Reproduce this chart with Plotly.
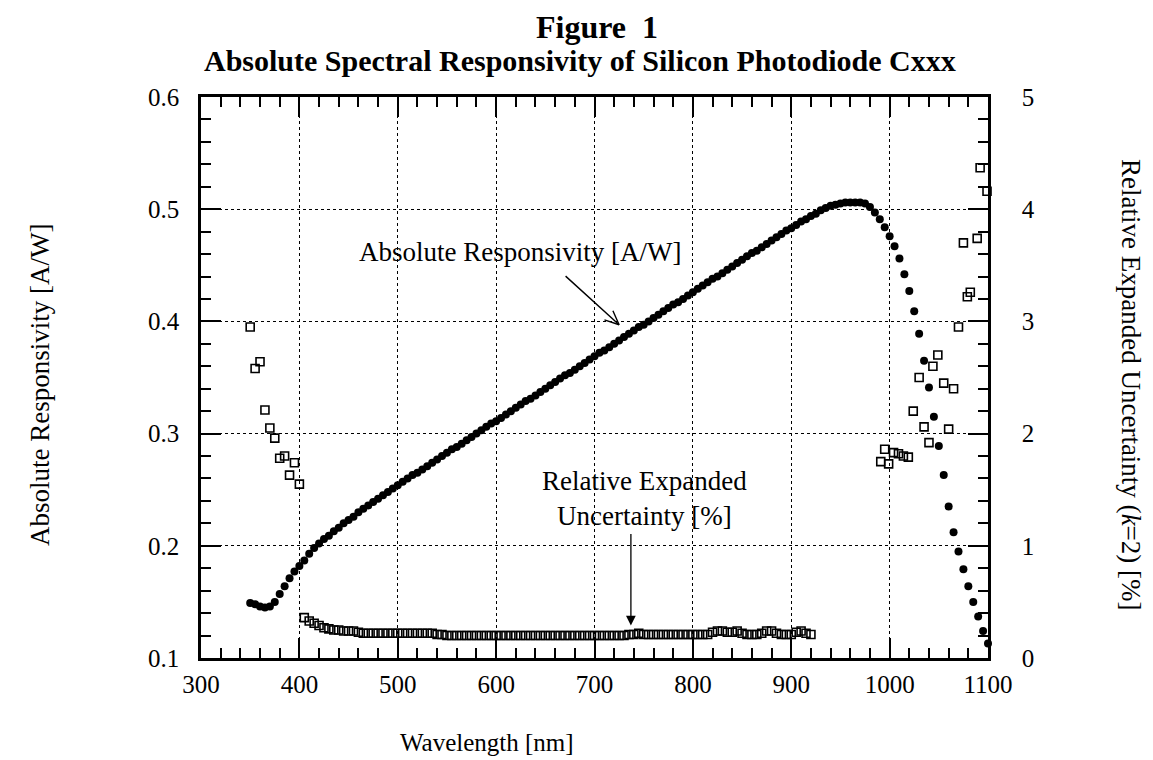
import math
import plotly.graph_objects as go

# Wavelength grid of the responsivity scan [nm]
wavelength_resp = list(range(350, 1101, 5))

# Absolute responsivity [A/W]
responsivity = [
    0.149, 0.148, 0.146, 0.145, 0.146, 0.150, 0.157, 0.164, 0.171, 0.177,
    0.182, 0.187, 0.193, 0.198, 0.202, 0.206, 0.209, 0.213, 0.216, 0.220,
    0.223, 0.226, 0.230, 0.233, 0.236, 0.239, 0.242, 0.245, 0.248, 0.251,
    0.254,
    0.257, 0.260, 0.263, 0.265, 0.268, 0.271, 0.274, 0.277, 0.280, 0.283,
    0.286, 0.288, 0.291, 0.294, 0.297, 0.300, 0.303, 0.306, 0.309, 0.311,
    0.314, 0.317, 0.320, 0.323, 0.326, 0.329, 0.331, 0.334, 0.337, 0.340,
    0.343, 0.346, 0.349, 0.352, 0.354, 0.357, 0.360, 0.363, 0.366, 0.369,
    0.372, 0.374, 0.377, 0.380, 0.383, 0.386, 0.389, 0.392, 0.395, 0.397,
    0.400, 0.403, 0.406, 0.409, 0.412, 0.415, 0.417, 0.420, 0.423, 0.426,
    0.429, 0.432, 0.435, 0.438, 0.440, 0.443, 0.446, 0.449, 0.452, 0.455,
    0.458, 0.461, 0.463, 0.466, 0.469, 0.472, 0.475, 0.478, 0.481, 0.483,
    0.486, 0.489, 0.491, 0.494, 0.496, 0.499, 0.501, 0.503, 0.504, 0.505,
    0.506, 0.506, 0.506, 0.506, 0.505, 0.502, 0.497, 0.491, 0.484, 0.476,
    0.467, 0.456, 0.442, 0.427, 0.409, 0.389, 0.365, 0.341, 0.315, 0.289,
    0.263, 0.235, 0.212, 0.195, 0.179, 0.164, 0.150, 0.137, 0.124, 0.113,
]

# Relative expanded uncertainty (k=2) [%] and its wavelengths [nm]
wavelength_unc_uv = [350, 355, 360, 365, 370, 375, 380, 385, 390, 395, 400]
uncertainty_uv = [2.95, 2.58, 2.64, 2.21, 2.05, 1.96, 1.78, 1.80, 1.63, 1.74, 1.55]

wavelength_unc_vis = list(range(405, 921, 5))
uncertainty_vis = [
    0.36, 0.33, 0.31, 0.29, 0.27, 0.26, 0.25, 0.25, 0.24, 0.24,
    0.24, 0.23, 0.22, 0.22, 0.22, 0.22, 0.22, 0.22, 0.22, 0.22,
    0.22, 0.22, 0.22, 0.22, 0.22, 0.22, 0.22, 0.21, 0.21, 0.20,
    0.20, 0.20, 0.20, 0.20, 0.20, 0.20, 0.20, 0.20, 0.20, 0.20,
    0.20, 0.20, 0.20, 0.20, 0.20, 0.20, 0.20, 0.20, 0.20, 0.20,
    0.20, 0.20, 0.20, 0.20, 0.20, 0.20, 0.20, 0.20, 0.20, 0.20,
    0.20, 0.20, 0.20, 0.20, 0.20, 0.20, 0.21, 0.21, 0.22, 0.21,
    0.21, 0.21, 0.21, 0.21, 0.21, 0.21, 0.21, 0.21, 0.21, 0.21,
    0.21, 0.21, 0.21, 0.23, 0.24, 0.24, 0.23, 0.23, 0.24, 0.22,
    0.21, 0.21, 0.21, 0.22, 0.24, 0.24, 0.22, 0.21, 0.21, 0.21,
    0.23, 0.24, 0.22, 0.21,
]

wavelength_unc_nir = [991, 995, 999, 1004, 1009, 1014, 1019, 1024, 1030, 1035,
                      1040, 1044, 1049, 1055, 1060, 1065, 1070, 1075, 1079, 1082,
                      1089, 1092, 1099]
uncertainty_nir = [1.75, 1.86, 1.73, 1.83, 1.82, 1.80, 1.79, 2.20, 2.50, 2.06,
                   1.92, 2.60, 2.70, 2.45, 2.04, 2.40, 2.95, 3.70, 3.22, 3.26,
                   3.74, 4.37, 4.16]

wavelength_unc = wavelength_unc_uv + wavelength_unc_vis + wavelength_unc_nir
uncertainty = uncertainty_uv + uncertainty_vis + uncertainty_nir

x_ticks = [300, 400, 500, 600, 700, 800, 900, 1000, 1100]
y_ticks = [0.1, 0.2, 0.3, 0.4, 0.5, 0.6]
y2_ticks = [0, 1, 2, 3, 4, 5]

FONT = "Liberation Serif"
W, H = 1153, 760
L, R, T, B = 201, 165, 97, 102
PW, PH = W - L - R, H - T - B


def px_x(p):
    return (p - L) / PW


def px_y(p):
    return (H - B - p) / PH


fig = go.Figure()
fig.add_trace(go.Scatter(
    x=wavelength_resp, y=responsivity, mode="markers", yaxis="y",
    marker=dict(symbol="circle", size=8, color="black", line=dict(width=0)),
    showlegend=False, cliponaxis=False,
))
fig.add_trace(go.Scatter(
    x=wavelength_unc, y=uncertainty, mode="markers", yaxis="y2",
    marker=dict(symbol="square-open", size=8, color="black", line=dict(width=1.6)),
    showlegend=False, cliponaxis=False,
))

axis_common = dict(
    ticks="inside", ticklen=20, tickwidth=2, tickcolor="black",
    showline=True, linewidth=2.5, linecolor="black",
    zeroline=False,
    tickfont=dict(family=FONT, size=25, color="black"),
)

fig.update_layout(
    width=W, height=H,
    margin=dict(l=L, r=R, t=T, b=B, autoexpand=False),
    paper_bgcolor="white", plot_bgcolor="white",
    font=dict(family=FONT, color="black"),
    xaxis=dict(
        range=[300, 1100], tickvals=x_ticks, ticktext=[str(v) for v in x_ticks],
        mirror="ticks", showgrid=True, gridcolor="black", griddash="dot", gridwidth=1,
        minor=dict(dtick=20, tick0=300, ticks="inside", ticklen=10, tickwidth=2,
                   tickcolor="black", showgrid=False),
        ticklabelstandoff=2,
        **axis_common,
    ),
    yaxis=dict(
        range=[0.1, 0.6], tickvals=y_ticks, ticktext=[f"{v:.1f}" for v in y_ticks],
        mirror=True, showgrid=True, gridcolor="black", griddash="dot", gridwidth=1,
        minor=dict(dtick=0.02, tick0=0.1, ticks="inside", ticklen=10, tickwidth=2,
                   tickcolor="black", showgrid=False),
        ticklabelstandoff=14,
        **axis_common,
    ),
    yaxis2=dict(
        range=[0, 5], tickvals=y2_ticks, ticktext=[str(v) for v in y2_ticks],
        overlaying="y", side="right", showgrid=False,
        minor=dict(dtick=0.2, tick0=0, ticks="inside", ticklen=10, tickwidth=2,
                   tickcolor="black", showgrid=False),
        ticklabelstandoff=26,
        **axis_common,
    ),
)

# Pointer from the responsivity label: a plain shaft plus an open "V" head
resp_tip = (725, 0.397)
resp_tail = (-55, -50)
shaft_angle = math.atan2(resp_tail[1], resp_tail[0])
head_len = 17
head_arms = []
for side in (-1, 1):
    a = shaft_angle + side * math.radians(24)
    head_arms.append(dict(
        text="", x=resp_tip[0], y=resp_tip[1], xref="x", yref="y",
        ax=head_len * math.cos(a), ay=head_len * math.sin(a),
        showarrow=True, arrowhead=0, arrowwidth=1.4, arrowcolor="black",
    ))

annotations = [
    dict(text="<b>Figure&nbsp;&nbsp;1</b>", xref="paper", yref="paper",
         x=px_x(597), y=px_y(27), xanchor="center", yanchor="middle",
         showarrow=False, font=dict(family=FONT, size=32)),
    dict(text="<b>Absolute Spectral Responsivity of Silicon Photodiode Cxxx</b>",
         xref="paper", yref="paper", x=px_x(580), y=px_y(60),
         xanchor="center", yanchor="middle", showarrow=False,
         font=dict(family=FONT, size=30)),
    dict(text="Wavelength [nm]", xref="paper", yref="paper",
         x=px_x(487), y=px_y(742), xanchor="center", yanchor="middle",
         showarrow=False, font=dict(family=FONT, size=25)),
    dict(text="Absolute Responsivity [A/W]", xref="paper", yref="paper",
         x=px_x(40), y=px_y(385), xanchor="center", yanchor="middle",
         textangle=-90, showarrow=False, font=dict(family=FONT, size=27)),
    dict(text="Relative Expanded Uncertainty (<i>k</i>=2) [%]", xref="paper", yref="paper",
         x=px_x(1131), y=px_y(385), xanchor="center", yanchor="middle",
         textangle=90, showarrow=False, font=dict(family=FONT, size=27)),
    dict(text="Absolute Responsivity [A/W]", xref="paper", yref="paper",
         x=px_x(357), y=px_y(252), xanchor="left", yanchor="middle",
         showarrow=False, font=dict(family=FONT, size=27)),
    dict(text="Relative Expanded<br>Uncertainty [%]", xref="paper", yref="paper",
         x=px_x(644), y=px_y(498), xanchor="center", yanchor="middle",
         showarrow=False, font=dict(family=FONT, size=27)),
    # shaft of the responsivity pointer
    dict(text="", x=resp_tip[0], y=resp_tip[1], xref="x", yref="y",
         ax=resp_tail[0], ay=resp_tail[1],
         showarrow=True, arrowhead=0, arrowwidth=1.4, arrowcolor="black"),
    # arrow to the uncertainty points
    dict(text="", x=737, y=0.29, xref="x", yref="y2", ax=0, ay=-93,
         showarrow=True, arrowhead=2, arrowsize=1.5, arrowwidth=1.3, arrowcolor="black"),
] + head_arms
fig.update_layout(annotations=annotations)

fig.write_html("out.html")
